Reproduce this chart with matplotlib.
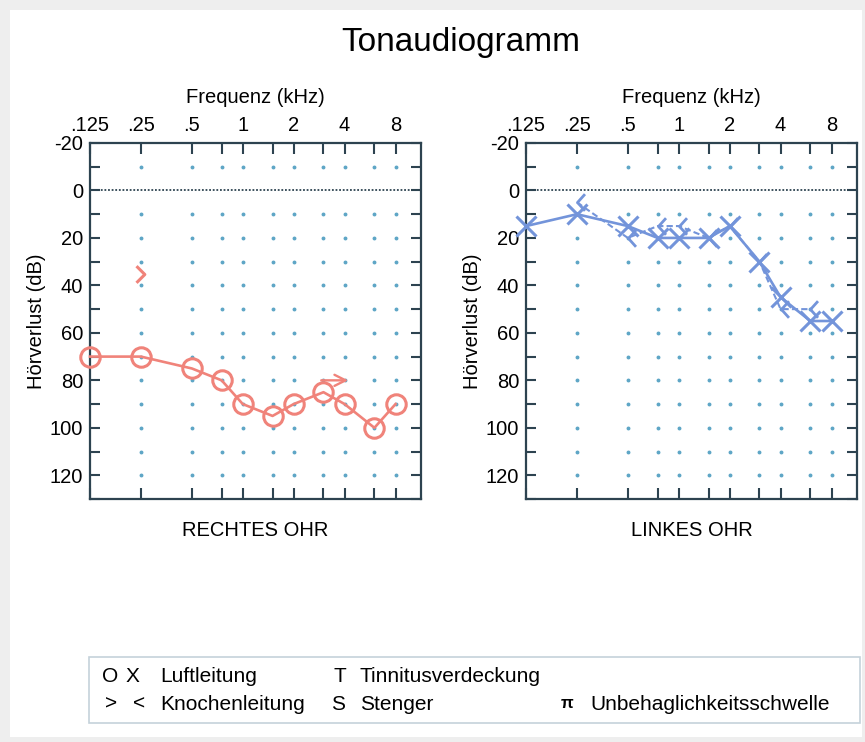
import matplotlib
matplotlib.use("Agg")
import matplotlib.pyplot as plt
from matplotlib.path import Path
from matplotlib.patches import Rectangle
from matplotlib.ticker import MultipleLocator, NullFormatter

plt.rcParams['font.family'] = ['Liberation Sans', 'DejaVu Sans']
plt.rcParams['axes.unicode_minus'] = False

## Data
freqs = [0.125, 0.25, 0.5, 0.75, 1, 1.5, 2, 3, 4, 6, 8]
right_air = [70, 70, 75, 80, 90, 95, 90, 85, 90, 100, 90]
right_bone_freq = [0.25]
right_bone = [35]
right_nr_freq = [3]      # bone conduction, no response (arrow)
right_nr = [80]
left_air = [15, 10, 15, 20, 20, 20, 15, 30, 45, 55, 55]
left_bone_freq = [0.25, 0.5, 0.75, 1, 1.5, 2, 3, 4, 6]
left_bone = [5, 20, 15, 15, 20, 15, 30, 50, 50]

oct_ticks = [0.125, 0.25, 0.5, 1, 2, 4, 8]
oct_labels = ['.125', '.25', '.5', '1', '2', '4', '8']
half_ticks = [0.75, 1.5, 3, 6]
db_ticks = list(range(-20, 121, 20))

SPINE = '#2d4350'
DOT = '#5fa6c6'
RED = '#f0837a'
BLUE = '#7394da'

# chevron markers (open)
gt = Path([(-0.6, 1.0), (0.4, 0.0), (-0.6, -1.0)], [Path.MOVETO, Path.LINETO, Path.LINETO])
lt = Path([(0.9, 1.0), (0.0, 0.0), (0.9, -1.0)], [Path.MOVETO, Path.LINETO, Path.LINETO])

W, H = 865, 742
fig = plt.figure(figsize=(W / 100, H / 100), dpi=100, facecolor='#eeeeee')
fig.patches.append(Rectangle((10 / W, 1 - 737 / H), 852 / W, 727 / H, transform=fig.transFigure,
                             fc='white', ec='none', zorder=-10))


def setup(ax):
    ax.set_xscale('log', base=2)
    ax.set_xlim(0.125, 8 * 2 ** 0.5)
    ax.set_ylim(130, -20)
    ax.xaxis.tick_top()
    ax.set_xticks(oct_ticks, oct_labels)
    ax.set_xticks(half_ticks, minor=True)
    ax.xaxis.set_minor_formatter(NullFormatter())
    ax.set_yticks(db_ticks)
    ax.yaxis.set_minor_locator(MultipleLocator(10))
    ax.tick_params(axis='x', which='both', top=True, bottom=True, direction='in',
                   length=8, width=1.5, color=SPINE, labelsize=14.5, pad=6)
    ax.tick_params(axis='y', which='both', left=True, right=True, direction='in',
                   length=7, width=1.5, color=SPINE, labelsize=14.5, pad=5)
    for s in ax.spines.values():
        s.set_color(SPINE)
        s.set_linewidth(1.6)
    ax.set_xlabel('Frequenz (kHz)', fontsize=14.5, labelpad=9)
    ax.xaxis.set_label_position('top')
    ax.set_ylabel('Hörverlust (dB)', fontsize=14.5, labelpad=3)
    # dotted grid
    gx = oct_ticks[1:] + half_ticks
    for x in gx:
        ys = [y for y in range(-10, 121, 10) if y != 0]
        ax.plot([x] * len(ys), ys, ls='none', marker='o', ms=1.8, color=DOT, zorder=1)
    ax.axhline(0, color=SPINE, lw=1.3, ls=(0, (1, 1)), zorder=1)


axl = fig.add_axes([90 / W, 1 - 499 / H, 331 / W, 356 / H])
axr = fig.add_axes([526 / W, 1 - 499 / H, 331 / W, 356 / H])
setup(axl)
setup(axr)

# Right ear
axl.plot(freqs, right_air, color=RED, lw=1.9, marker='o', ms=14, mfc='none', mew=2.2, zorder=3,
         clip_on=False)
axl.plot(right_bone_freq, right_bone, ls='none', marker=gt, ms=12, mfc='none', mew=2.2,
         color=RED, zorder=3)
for f, v in zip(right_nr_freq, right_nr):
    axl.annotate('', xy=(f * 1.4, v), xytext=(f * 0.97, v),
                 arrowprops=dict(arrowstyle='->', color=RED, lw=1.7, mutation_scale=20,
                                 shrinkA=0, shrinkB=0))

# Left ear
axr.plot(freqs, left_air, color=BLUE, lw=1.9, marker='x', ms=14, mew=2.2, zorder=3, clip_on=False)
axr.plot(left_bone_freq, left_bone, color=BLUE, lw=1.5, ls=(0, (3, 1.5)), marker=lt, ms=12,
         mfc='none', mew=2, zorder=3)

fig.text(461 / W, 1 - 42 / H, 'Tonaudiogramm', fontsize=24, ha='center', va='center')
fig.text(255.5 / W, 1 - 530 / H, 'RECHTES OHR', fontsize=14.5, ha='center', va='center')
fig.text(691.5 / W, 1 - 530 / H, 'LINKES OHR', fontsize=14.5, ha='center', va='center')

# legend box
fig.patches.append(Rectangle((89 / W, 1 - 723 / H), 771 / W, 66 / H, transform=fig.transFigure,
                             fc='white', ec='#c5d2da', lw=1.2))
leg = [
    (102, 677, 'O'), (126, 677, 'X'), (160, 677, 'Luftleitung'),
    (333, 677, 'T'), (360, 677, 'Tinnitusverdeckung'),
    (105, 704, '>'), (133, 704, '<'), (160, 704, 'Knochenleitung'),
    (331, 704, 'S'), (360, 704, 'Stenger'),
    (590, 704, 'Unbehaglichkeitsschwelle'),
]
for x, y, t in leg:
    fig.text(x / W, 1 - y / H, t, fontsize=15, ha='left', va='center')
fig.text(567 / W, 1 - 704 / H, 'π', fontsize=12, fontweight='bold', ha='center', va='center')

fig.savefig('out.png', dpi=100, facecolor=fig.get_facecolor())
